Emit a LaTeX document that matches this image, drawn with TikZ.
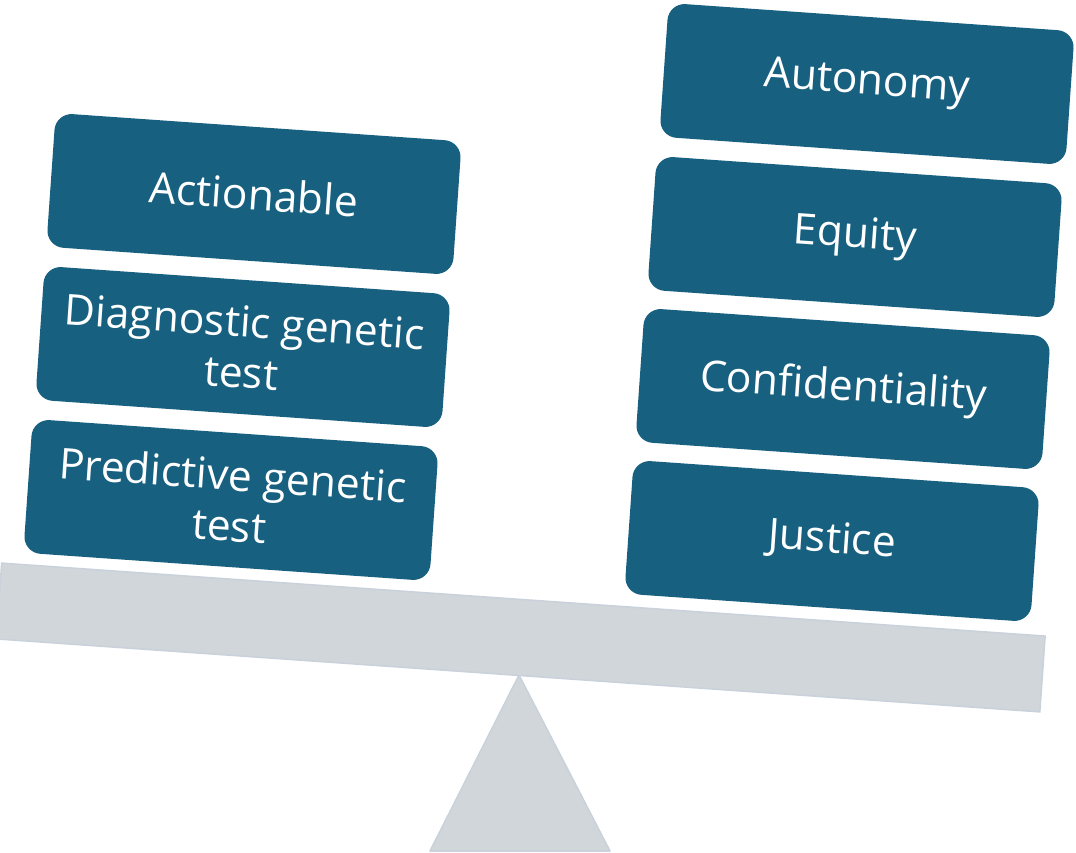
\documentclass[tikz,border=0pt]{standalone}
\usepackage{fontspec}
\setmainfont{Open Sans}
\definecolor{boxblue}{HTML}{17607F}
\definecolor{beamgrey}{HTML}{D1D6DB}
\definecolor{beamedge}{HTML}{C9D1DA}
\begin{document}
\begin{tikzpicture}[x=1pt,y=-1pt,
  block/.style={fill=boxblue, rounded corners=17pt, minimum width=407pt,
    minimum height=134pt, rotate=-4, text=white, align=center, inner sep=0pt,
    font=\fontsize{42.5}{51}\selectfont},
  support/.style={fill=beamgrey, draw=beamedge, line width=1.5pt}]
\useasboundingbox (0,0) rectangle (1076,853);
% pivot
\draw[support, line join=round] (519,675) -- (610,851) -- (430,851) -- cycle;
% beam
\node[support, rectangle, rotate=-4, minimum width=1046pt, minimum height=76pt, inner sep=0pt]
  (beam) at (520.75,637.5) {};
% left pan
\node[block] (actionable) at (254,194) {Actionable};
\node[block] (diagnostic) at (243,347) {Diagnostic genetic\\test};
\node[block] (predictive) at (231,500) {Predictive genetic\\test};
% right pan
\node[block] (autonomy) at (867,84) {Autonomy};
\node[block] (equity) at (855,237) {Equity};
\node[block] (confidentiality) at (843,389) {Confidentiality};
\node[block] (justice) at (832,541) {Justice};
\end{tikzpicture}
\end{document}
